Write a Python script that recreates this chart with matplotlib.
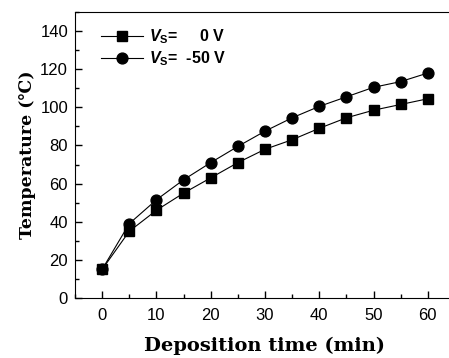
import matplotlib
matplotlib.use("Agg")
import matplotlib.pyplot as plt
from matplotlib.ticker import MultipleLocator

# Данные
time_min = [0, 5, 10, 15, 20, 25, 30, 35, 40, 45, 50, 55, 60]
temp_0v = [15, 35, 46, 55, 63, 71, 78, 83, 89, 94.5, 98.5, 101.5, 104.5]
temp_50v = [15, 39, 51.5, 62, 71, 79.5, 87.5, 94.5, 100.5, 105.5, 110.5, 113.5, 118]

label_0v = r"$V_{\mathrm{S}}$=     0 V"
label_50v = r"$V_{\mathrm{S}}$=  -50 V"

plt.rcParams["mathtext.fontset"] = "custom"
plt.rcParams["mathtext.it"] = "Liberation Sans:italic:bold"
plt.rcParams["mathtext.rm"] = "Liberation Sans:bold"
plt.rcParams["mathtext.bf"] = "Liberation Sans:bold"

fig = plt.figure(figsize=(4.49, 3.58), dpi=100)
# правая граница осей чуть за краем картинки (как в оригинале)
ax = fig.add_axes([75 / 449, 60 / 358, 380 / 449, 286 / 358])

ax.plot(time_min, temp_0v, color="black", marker="s", markersize=7.2,
        linewidth=0.8, label=label_0v)
ax.plot(time_min, temp_50v, color="black", marker="o", markersize=7.8,
        linewidth=0.8, label=label_50v)

ax.set_xlim(-5, 65)
ax.set_ylim(0, 150)
ax.xaxis.set_major_locator(MultipleLocator(10))
ax.xaxis.set_minor_locator(MultipleLocator(5))
ax.yaxis.set_major_locator(MultipleLocator(20))
ax.yaxis.set_minor_locator(MultipleLocator(10))
ax.tick_params(which="both", direction="in", labelsize=12, width=1)
ax.tick_params(which="major", length=5)
ax.tick_params(which="minor", length=3)
ax.tick_params(axis="x", pad=7)
ax.tick_params(axis="y", pad=5)
for lbl in ax.get_xticklabels() + ax.get_yticklabels():
    lbl.set_fontfamily("Liberation Sans")

ax.set_xlabel("Deposition time (min)", fontfamily="DejaVu Serif",
              fontweight="bold", fontsize=14, labelpad=10)
ax.set_ylabel("Temperature (\u2103)", fontfamily="DejaVu Serif",
              fontweight="bold", fontsize=12.5, labelpad=3)

leg = ax.legend(loc="upper left", frameon=False, handlelength=2.6,
                fontsize=11.5, borderaxespad=0.3, labelspacing=0.2,
                handletextpad=0.4, bbox_to_anchor=(0.04, 0.985))
for t in leg.get_texts():
    t.set_fontweight("bold")
    t.set_fontfamily("Liberation Sans")

fig.savefig("out.png", dpi=100)
